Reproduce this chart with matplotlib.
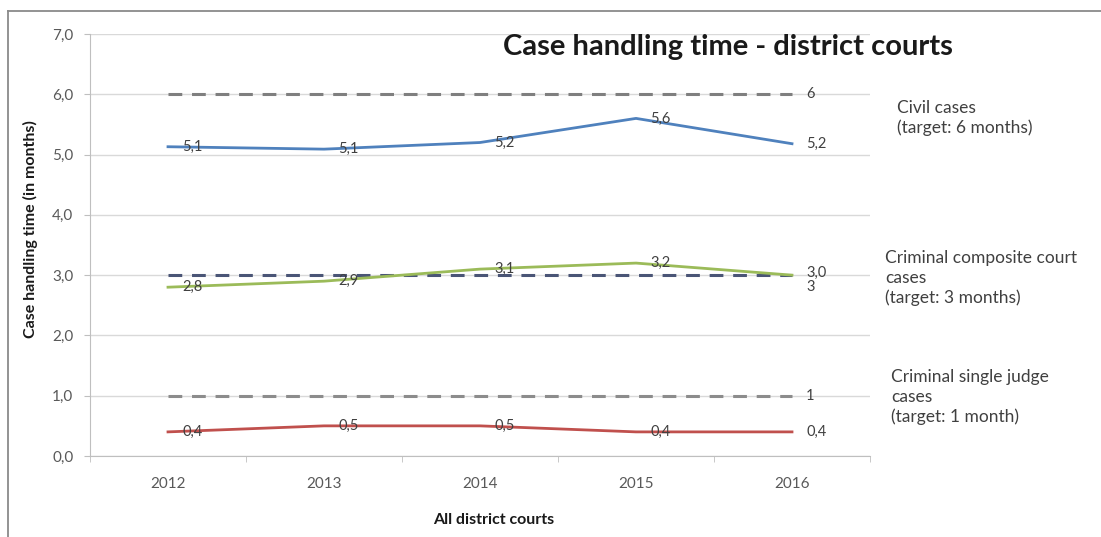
import numpy as np
import matplotlib
matplotlib.use('Agg')
import matplotlib.pyplot as plt
from matplotlib.lines import Line2D

plt.rcParams['font.family'] = ['Lato', 'DejaVu Sans']

years = ['2012', '2013', '2014', '2015', '2016']
civil = [5.13, 5.09, 5.2, 5.6, 5.18]
composite = [2.8, 2.9, 3.1, 3.2, 3.0]
single = [0.4, 0.5, 0.5, 0.4, 0.4]
targets = [6, 3, 1]
target_cols = ['#7f7f7f', '#4a5576', '#8c8c8c']
side_texts = ['Civil cases\n(target: 6 months)',
              'Criminal composite court\ncases\n(target: 3 months)',
              'Criminal single judge\ncases\n(target: 1 month)']
side_pos = [(897, 118), (885, 278), (891, 397)]

def fmt(v):
    return ('%.1f' % v).replace('.', ',')

W, H = 1101, 537
fig = plt.figure(figsize=(W/100, H/100), dpi=100)
ax = fig.add_axes([90/W, 1-456/H, 780/W, 422/H])
x = np.arange(len(years))
off = 0.09

# frame around the chart
fig.add_artist(Line2D([8/W, 8/W], [0, 1-11/H], color='#8a8a8a', lw=1.3, transform=fig.transFigure))
fig.add_artist(Line2D([8/W, 1], [1-11/H, 1-11/H], color='#8a8a8a', lw=1.3, transform=fig.transFigure))

for t, c in zip(targets, target_cols):
    ax.plot(x, [t]*len(x), color=c, lw=2.2, ls=(0, (4.5, 3.2)), zorder=2)
    if t == 3:
        ax.text(x[-1] + off, t - 0.08, str(t), ha='left', va='top', fontsize=10.5, color='#404040')
    else:
        ax.text(x[-1] + off, t, str(t), ha='left', va='center', fontsize=10.5, color='#404040')

series = [(civil, '#4f81bd'), (composite, '#9bbb59'), (single, '#c0504d')]
for vals, c in series:
    ax.plot(x, vals, color=c, lw=2, zorder=3)
    for i, v in enumerate(vals):
        dy = 0.04 if (vals is composite and i == len(vals) - 1) else 0
        ax.text(x[i] + off, v + dy, fmt(v), ha='left', va='center', fontsize=10.5, color='#404040', zorder=4)

ax.set_xlim(-0.5, 4.5)
ax.set_ylim(0, 7)
ax.set_yticks(np.arange(0, 8, 1))
ax.set_yticklabels([fmt(v) for v in np.arange(0, 8, 1)], fontsize=11, color='#595959')
ax.set_xticks(x)
ax.set_xticklabels(years, fontsize=11, color='#595959')
ax.set_xticks(np.arange(-0.5, 5, 1), minor=True)
ax.tick_params(axis='x', which='major', length=0, pad=15)
ax.tick_params(axis='x', which='minor', length=4, color='#bfbfbf')
ax.tick_params(axis='y', length=4, color='#bfbfbf', pad=8)
ax.grid(axis='y', color='#d9d9d9', lw=1)
ax.set_axisbelow(True)
for s in ['top', 'right']:
    ax.spines[s].set_visible(False)
ax.spines['left'].set_color('#bfbfbf')
ax.spines['bottom'].set_color('#bfbfbf')

ax.set_ylabel('Case handling time (in months)', fontsize=11.5, fontweight='bold', color='#1a1a1a')
ax.yaxis.set_label_coords(38/W, 1-229/H, transform=fig.transFigure)
ax.set_xlabel('All district courts', fontsize=11.5, fontweight='bold', color='#1a1a1a')
ax.xaxis.set_label_coords(494/W, 1-513/H, transform=fig.transFigure)

fig.text(728/W, 1-47/H, 'Case handling time - district courts', ha='center', va='center',
         fontsize=21, fontweight='bold', color='#1a1a1a')

for txt, (px, py) in zip(side_texts, side_pos):
    fig.text(px/W, 1-py/H, txt, ha='left', va='center', fontsize=12.5, color='#404040', linespacing=1.3)

fig.savefig('out.png', dpi=100, facecolor='white')
